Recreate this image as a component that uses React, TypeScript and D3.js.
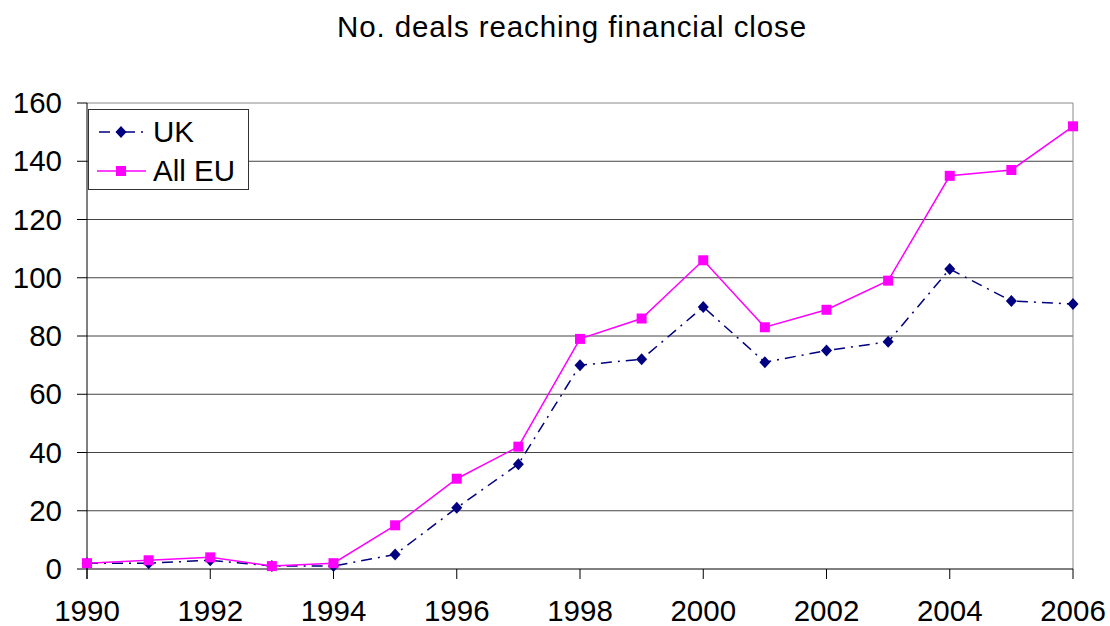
import React from "react";
import * as d3 from "d3";

const years = [1990,1991,1992,1993,1994,1995,1996,1997,1998,1999,2000,2001,2002,2003,2004,2005,2006];
const ukValues = [2,2,3,1,1,5,21,36,70,72,90,71,75,78,103,92,91];
const euValues = [2,3,4,1,2,15,31,42,79,86,106,83,89,99,135,137,152];
const yTicks = [0,20,40,60,80,100,120,140,160];
const xTickLabels = [1990,1992,1994,1996,1998,2000,2002,2004,2006];

const W = 1110, H = 626;
const L = 87, R = 1073, T = 103, B = 569;
const font = "Liberation Sans, Arial, sans-serif";

export default function App() {
  const x = d3.scaleLinear().domain([1990, 2006]).range([L, R]);
  const y = d3.scaleLinear().domain([0, 160]).range([B, T]);
  const line = d3.line<number>().x((_, i) => x(years[i])).y(d => y(d));
  const diamond = "M0,-6L5.5,0L0,6L-5.5,0Z";
  return (
    <svg width={W} height={H} style={{ position: "absolute", left: 0, top: 0 }}>
      <rect x={0} y={0} width={W} height={H} fill="#fff" />
      <text x={572} y={37} textAnchor="middle" fontFamily={font} fontSize={29.5} letterSpacing={0.9}>No. deals reaching financial close</text>
      {yTicks.filter(t => t > 0).map(t => (
        <line key={t} x1={L} x2={R} y1={y(t)} y2={y(t)} stroke={t === 160 ? "#888" : "#444"} strokeWidth={1} />
      ))}
      <line x1={R} x2={R} y1={T} y2={B} stroke="#888" />
      <line x1={L} x2={L} y1={T} y2={B + 10} stroke="#000" />
      <line x1={L} x2={R} y1={B} y2={B} stroke="#000" />
      {yTicks.map(t => (
        <g key={t}>
          <line x1={L - 10} x2={L} y1={y(t)} y2={y(t)} stroke="#000" />
          <text x={62} y={y(t) + 10} textAnchor="end" fontFamily={font} fontSize={29.5}>{t}</text>
        </g>
      ))}
      {xTickLabels.map(t => (
        <g key={t}>
          <line x1={x(t)} x2={x(t)} y1={B} y2={B + 10} stroke="#000" />
          <text x={x(t)} y={621} textAnchor="middle" fontFamily={font} fontSize={29.5}>{t}</text>
        </g>
      ))}
      <path d={line(ukValues) || ""} fill="none" stroke="#000080" strokeWidth={1.5} strokeDasharray="11 6 2 6" />
      <path d={line(euValues) || ""} fill="none" stroke="#ff00ff" strokeWidth={1.5} />
      {ukValues.map((v, i) => (
        <path key={i} d={diamond} transform={`translate(${x(years[i])},${y(v)})`} fill="#000080" />
      ))}
      {euValues.map((v, i) => (
        <rect key={i} x={x(years[i]) - 5} y={y(v) - 5} width={10} height={10} fill="#ff00ff" />
      ))}
      <rect x={88.5} y={109.5} width={160} height={80} fill="#fff" stroke="#333" />
      <line x1={97} x2={143} y1={132} y2={132} stroke="#000080" strokeWidth={1.5} strokeDasharray="11 6 2 6" strokeDashoffset={-2} />
      <path d={diamond} transform="translate(121,132)" fill="#000080" />
      <text x={153} y={142} fontFamily={font} fontSize={29.5}>UK</text>
      <line x1={97} x2={146} y1={171} y2={171} stroke="#ff00ff" strokeWidth={1.5} />
      <rect x={116} y={166} width={10} height={10} fill="#ff00ff" />
      <text x={153} y={181} fontFamily={font} fontSize={29.5}>All EU</text>
    </svg>
  );
}
